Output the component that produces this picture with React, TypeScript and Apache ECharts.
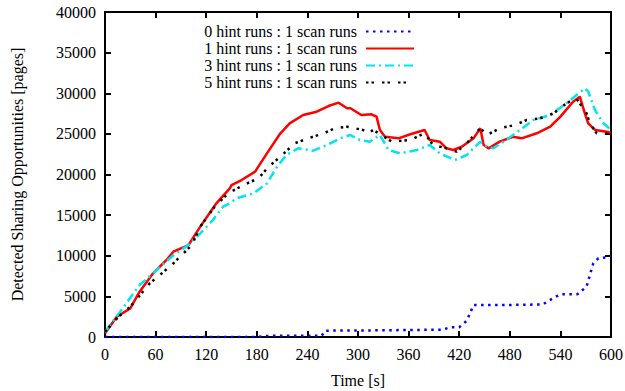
import React, { useEffect, useRef } from "react";
import * as echarts from "echarts";

const seriesNames = [
  "0 hint runs : 1 scan runs",
  "1 hint runs : 1 scan runs",
  "3 hint runs : 1 scan runs",
  "5 hint runs : 1 scan runs",
];

const blueT = [0, 180, 196, 257, 261, 300, 350, 400, 409, 420, 429, 437, 480, 519, 530, 540, 560, 571, 575, 579, 585, 595, 600];
const blueV = [0, 0, 160, 160, 780, 800, 850, 900, 1190, 1200, 2000, 3940, 3950, 4000, 4700, 5250, 5250, 6190, 7630, 9070, 9690, 9800, 10000];

const redT = [0, 14, 30, 41, 57, 73, 81, 99, 113, 128, 132, 148, 150, 162, 178, 192, 208, 219, 235, 251, 265, 277, 287, 291, 304, 316, 322, 326, 332, 348, 362, 379, 385, 397, 405, 413, 423, 437, 445, 449, 455, 468, 484, 494, 512, 528, 540, 555, 563, 569, 573, 581, 595, 600];
const redV = [450, 2500, 3530, 5580, 7840, 9480, 10500, 11320, 13580, 15840, 16450, 18300, 18700, 19320, 20350, 22600, 25070, 26300, 27320, 27730, 28430, 28840, 28150, 28150, 27320, 27410, 27120, 25480, 24650, 24450, 24950, 25480, 24250, 24040, 23220, 23020, 23420, 24450, 25690, 23630, 23220, 24040, 24650, 24450, 25070, 25880, 27120, 28960, 29580, 27530, 26300, 25480, 25270, 25100];

const cyanT = [0, 18, 41, 57, 79, 97, 113, 128, 140, 148, 156, 176, 192, 204, 215, 229, 247, 263, 279, 291, 302, 314, 326, 336, 350, 370, 385, 397, 415, 429, 445, 453, 460, 476, 492, 508, 528, 547, 569, 573, 581, 591, 600];
const cyanV = [650, 3110, 6400, 7840, 9880, 11200, 12760, 14400, 16040, 16450, 17070, 17680, 18900, 20960, 22400, 23220, 22930, 23630, 24450, 24860, 24250, 24040, 24860, 23020, 22600, 23020, 23630, 22600, 21780, 22400, 24040, 23420, 23220, 24250, 25480, 26710, 27320, 28760, 30610, 30190, 27940, 26300, 25500];

const blackT = [0, 16, 30, 40, 53, 65, 79, 93, 103, 113, 130, 146, 164, 182, 194, 208, 225, 241, 259, 273, 287, 306, 312, 318, 328, 340, 362, 379, 389, 405, 417, 429, 445, 453, 468, 486, 500, 516, 532, 547, 559, 571, 575, 583, 600];
const blackV = [650, 2500, 3730, 4960, 6600, 7630, 8860, 10300, 11320, 13580, 16040, 17680, 18700, 19530, 20960, 22190, 23840, 24450, 25070, 25690, 25880, 25480, 25070, 25480, 24860, 24040, 24250, 25070, 23630, 23220, 22810, 23840, 25690, 24860, 25690, 26090, 26710, 26910, 27530, 28760, 29370, 27530, 26300, 25070, 25000];

const zip = (t: number[], v: number[]) => t.map((x, i) => [x, v[i]]);

const FONT = "'Liberation Serif', 'Times New Roman', serif";

export default function App() {
  const ref = useRef<HTMLDivElement>(null);
  useEffect(() => {
    if (!ref.current) return;
    const chart = echarts.init(ref.current, null, { renderer: "svg" });
    const axisCommon = {
      type: "value" as const,
      axisLine: { show: true, onZero: false, lineStyle: { color: "#000", width: 2 } },
      axisTick: { show: true, inside: true, length: 6, lineStyle: { color: "#000", width: 2 } },
      splitLine: { show: false },
    };
    const labelStyle = { color: "#000", fontFamily: FONT, fontSize: 16 };
    const plain = (v: number) => String(v);
    const mk = (name: string, data: number[][], color: string, type: any, width: number) => ({
      name,
      type: "line",
      data,
      symbol: "none",
      lineStyle: { color, type, width, cap: "butt" },
      itemStyle: { color },
    });
    chart.setOption({
      animation: false,
      backgroundColor: "#fff",
      textStyle: { fontFamily: FONT },
      grid: { left: 105, right: 14, top: 12, bottom: 54, containLabel: false, outerBoundsMode: "none" },
      legend: {
        orient: "vertical",
        align: "right",
        right: 205,
        top: 18,
        itemWidth: 48,
        itemHeight: 10,
        itemGap: 0,
        itemStyle: { opacity: 0, borderWidth: 0 },
        data: seriesNames,
        textStyle: { ...labelStyle, lineHeight: 17, padding: [0, 4, 0, 0] },
      },
      xAxis: [
        {
          ...axisCommon,
          min: 0,
          max: 600,
          interval: 60,
          position: "bottom",
          name: "Time [s]",
          nameLocation: "middle",
          nameGap: 35,
          nameTextStyle: labelStyle,
          axisLabel: { ...labelStyle, margin: 9, formatter: plain },
        },
        {
          ...axisCommon,
          min: 0,
          max: 600,
          interval: 60,
          position: "top",
          axisLabel: { show: false },
        },
      ],
      yAxis: [
        {
          ...axisCommon,
          min: 0,
          max: 40000,
          interval: 5000,
          position: "left",
          name: "Detected Sharing Opportunities [pages]",
          nameLocation: "middle",
          nameGap: 80,
          nameTextStyle: labelStyle,
          axisLabel: { ...labelStyle, margin: 9, formatter: plain },
        },
        {
          ...axisCommon,
          min: 0,
          max: 40000,
          interval: 5000,
          position: "right",
          axisLabel: { show: false },
        },
      ],
      series: [
        mk(seriesNames[0], zip(blueT, blueV), "#0000ff", [2.5, 4.5], 2.5),
        mk(seriesNames[1], zip(redT, redV), "#ff0000", "solid", 2.5),
        mk(seriesNames[2], zip(cyanT, cyanV), "#00e5ee", [9, 4, 2, 4], 2.5),
        mk(seriesNames[3], zip(blackT, blackV), "#000000", [2.5, 3, 2.5, 8], 2.5),
      ],
    });
    return () => chart.dispose();
  }, []);
  return <div ref={ref} style={{ width: 625, height: 391, position: "absolute", left: 0, top: 0 }} />;
}
